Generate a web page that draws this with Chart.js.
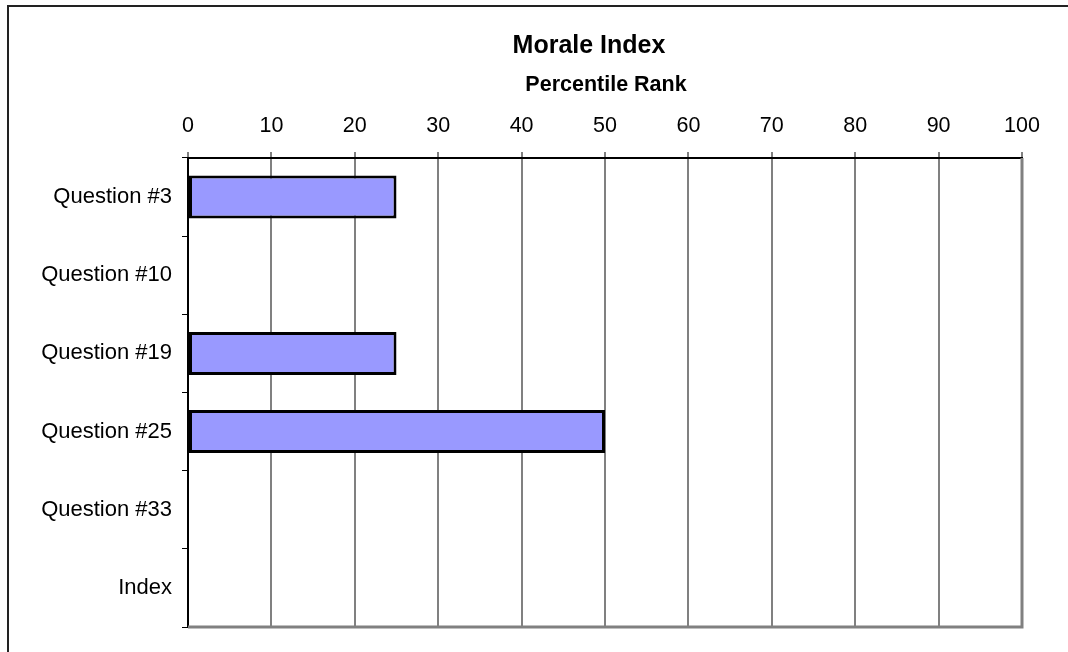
<!DOCTYPE html>
<html>
<head>
<meta charset="utf-8">
<script src="https://cdn.jsdelivr.net/npm/chart.js@4.4.1/dist/chart.umd.min.js"></script>
<style>
  html, body { margin: 0; padding: 0; background: #fff; }
  #wrap { position: relative; width: 1068px; height: 652px; overflow: hidden; }
  #frame { position: absolute; left: 7px; top: 5px; width: 1200px; height: 800px;
           border-top: 2px solid #222; border-left: 2px solid #222; box-sizing: border-box; }
  canvas { position: absolute; left: 0; top: 0; }
</style>
</head>
<body>
<div id="wrap">
  <div id="frame"></div>
  <canvas id="c" width="1068" height="652"></canvas>
</div>
<script>
const categories = ["Question #3", "Question #10", "Question #19", "Question #25", "Question #33", "Index"];
const percentileRank = [25, null, 25, 50, null, null];
const titleText = "Morale Index";
const subtitleText = "Percentile Rank";
const xMin = 0, xMax = 100, xStep = 10;

const FONT = "'Liberation Sans', Arial, sans-serif";

const decorPlugin = {
  id: 'decor',
  afterDatasetsDraw(chart) {
    const { ctx, chartArea: a } = chart;
    ctx.save();
    ctx.strokeStyle = '#808080';
    ctx.lineWidth = 3;
    ctx.beginPath();
    ctx.moveTo(a.left, a.bottom);
    ctx.lineTo(a.right, a.bottom);
    ctx.lineTo(a.right, a.top);
    ctx.stroke();
    ctx.restore();
  },
  afterDraw(chart) {
    const ctx = chart.ctx;
    ctx.save();
    ctx.fillStyle = '#000';
    ctx.textAlign = 'center';
    ctx.textBaseline = 'middle';
    ctx.font = "bold 25px " + FONT;
    ctx.fillText(titleText, 589, 46);
    ctx.font = "bold 21.5px " + FONT;
    ctx.fillText(subtitleText, 606, 85);
    ctx.restore();
  }
};

new Chart(document.getElementById('c'), {
  type: 'bar',
  data: {
    labels: categories,
    datasets: [{
      data: percentileRank,
      backgroundColor: '#9999FF',
      borderColor: '#000000',
      borderWidth: 3,
      borderSkipped: false,
      barPercentage: 0.55,
      categoryPercentage: 1.0
    }]
  },
  options: {
    indexAxis: 'y',
    responsive: false,
    animation: false,
    layout: { padding: { top: 97, left: 20, right: 46, bottom: 25 } },
    plugins: {
      legend: { display: false },
      tooltip: { enabled: false },
      title: { display: false },
      subtitle: { display: false }
    },
    scales: {
      x: {
        position: 'top',
        min: xMin, max: xMax,
        afterFit(scale) { scale.height = 61; },
        ticks: { stepSize: xStep, color: '#000', padding: 13, font: { family: FONT, size: 21.5 } },
        grid: { color: '#808080', lineWidth: 2, tickLength: 6, tickColor: '#808080' },
        border: { color: '#000', width: 2 }
      },
      y: {
        afterFit(scale) { scale.width = 168; },
        ticks: { color: '#000', padding: 10, font: { family: FONT, size: 22 } },
        grid: { drawOnChartArea: false, tickLength: 6, tickColor: '#000', lineWidth: 1 },
        border: { color: '#000', width: 2 }
      }
    }
  },
  plugins: [decorPlugin]
});
</script>
</body>
</html>
